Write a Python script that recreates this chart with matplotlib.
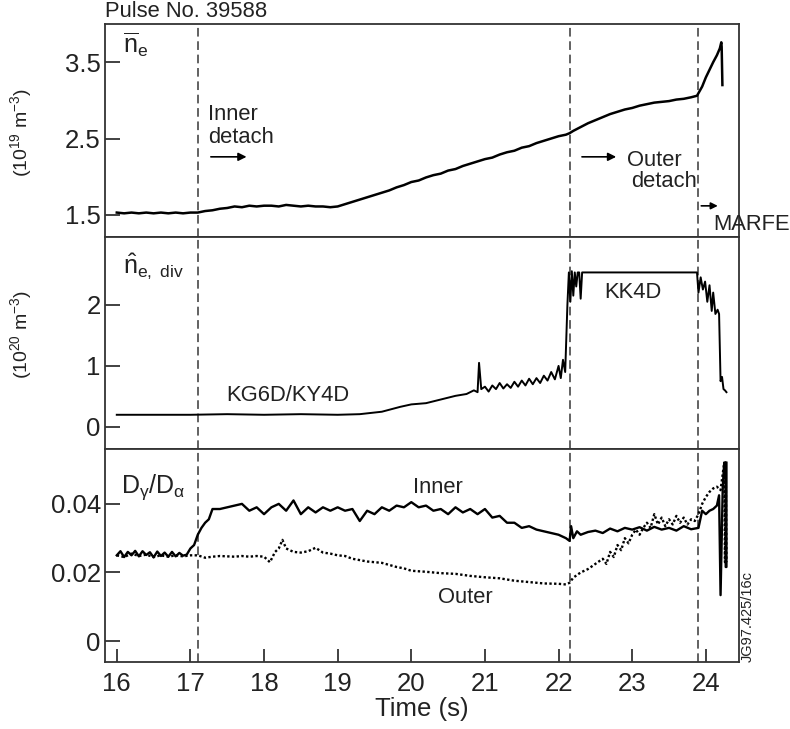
import matplotlib
matplotlib.use("Agg")
import matplotlib.pyplot as plt

plt.rcParams['font.family'] = ['Liberation Sans', 'DejaVu Sans']
plt.rcParams['mathtext.fontset'] = 'custom'
plt.rcParams['mathtext.rm'] = 'Liberation Sans'
plt.rcParams['mathtext.it'] = 'Liberation Sans:italic'
plt.rcParams['mathtext.bf'] = 'Liberation Sans:bold'

# ---------------- data ----------------
event_times = [17.1, 22.15, 23.89]

ne_t = [16.0, 16.1, 16.2, 16.3, 16.4, 16.5, 16.6, 16.7, 16.8, 16.9, 17.0, 17.1, 17.2, 17.3, 17.4,
        17.5, 17.6, 17.7, 17.8, 17.9, 18.0, 18.1, 18.2, 18.3, 18.4, 18.5, 18.6, 18.7, 18.8, 18.9,
        19.0, 19.1, 19.2, 19.3, 19.4, 19.5, 19.6, 19.7, 19.8, 19.9, 20.0, 20.1, 20.2, 20.3, 20.4,
        20.5, 20.6, 20.7, 20.8, 20.9, 21.0, 21.1, 21.2, 21.3, 21.4, 21.5, 21.6, 21.7, 21.8, 21.9,
        22.0, 22.1, 22.15, 22.2, 22.3, 22.4, 22.5, 22.6, 22.7, 22.8, 22.9, 23.0, 23.1, 23.2, 23.3,
        23.4, 23.5, 23.6, 23.7, 23.8, 23.88, 23.95, 24.0, 24.05, 24.1, 24.15, 24.19, 24.21, 24.215, 24.225]
ne_v = [1.53, 1.52, 1.53, 1.52, 1.53, 1.52, 1.53, 1.52, 1.53, 1.52, 1.53, 1.53, 1.55, 1.56, 1.58,
        1.59, 1.61, 1.60, 1.62, 1.61, 1.62, 1.62, 1.61, 1.63, 1.62, 1.61, 1.62, 1.61, 1.61, 1.60,
        1.61, 1.64, 1.67, 1.70, 1.73, 1.76, 1.79, 1.82, 1.86, 1.89, 1.93, 1.95, 1.99, 2.02, 2.04,
        2.08, 2.10, 2.14, 2.17, 2.20, 2.23, 2.25, 2.29, 2.32, 2.34, 2.38, 2.40, 2.44, 2.47, 2.50,
        2.53, 2.55, 2.57, 2.60, 2.65, 2.70, 2.74, 2.78, 2.82, 2.85, 2.88, 2.90, 2.93, 2.95, 2.97,
        2.98, 2.99, 3.01, 3.02, 3.04, 3.06, 3.18, 3.30, 3.40, 3.50, 3.59, 3.68, 3.76, 3.70, 3.20]

nd_t = [16.0, 16.5, 17.0, 17.5, 18.0, 18.5, 19.0, 19.3, 19.6, 19.85, 20.0, 20.2, 20.4, 20.6, 20.75,
        20.85, 20.9, 20.92, 20.95, 21.0, 21.05, 21.1, 21.15, 21.2, 21.25, 21.3, 21.35, 21.4, 21.45,
        21.5, 21.55, 21.6, 21.65, 21.7, 21.75, 21.8, 21.85, 21.9, 21.95, 22.0, 22.03, 22.06, 22.09,
        22.12, 22.14, 22.16, 22.18, 22.2, 22.22, 22.24, 22.26, 22.28, 22.3, 22.32, 22.34, 22.36,
        23.0, 23.88, 23.9, 23.93, 23.96, 23.99, 24.02, 24.05, 24.08, 24.1, 24.13, 24.16, 24.18,
        24.2, 24.22, 24.24, 24.26, 24.28]
nd_v = [0.20, 0.20, 0.20, 0.21, 0.20, 0.21, 0.20, 0.21, 0.25, 0.33, 0.37, 0.39, 0.45, 0.51, 0.54,
        0.60, 0.57, 1.05, 0.62, 0.66, 0.58, 0.68, 0.62, 0.72, 0.63, 0.70, 0.64, 0.74, 0.66,
        0.76, 0.68, 0.79, 0.70, 0.80, 0.72, 0.84, 0.76, 0.90, 0.78, 1.00, 0.80, 1.10, 0.90,
        2.00, 2.53, 2.05, 2.55, 2.15, 2.53, 2.30, 2.53, 2.53, 2.10, 2.53, 2.53, 2.53,
        2.53, 2.53, 2.20, 2.45, 2.25, 2.38, 2.05, 2.32, 1.90, 2.20, 1.85, 1.92, 1.85,
        0.75, 0.82, 0.62, 0.60, 0.57]

inner_t = [16.0, 16.05, 16.1, 16.15, 16.2, 16.25, 16.3, 16.35, 16.4, 16.45, 16.5, 16.55, 16.6,
           16.65, 16.7, 16.75, 16.8, 16.85, 16.9, 16.95, 17.0, 17.05, 17.1, 17.15, 17.2, 17.25,
           17.3, 17.4, 17.5, 17.6, 17.7, 17.8, 17.9, 18.0, 18.1, 18.2, 18.3, 18.4, 18.5, 18.6,
           18.7, 18.8, 18.9, 19.0, 19.1, 19.2, 19.3, 19.4, 19.5, 19.6, 19.7, 19.8, 19.9, 20.0,
           20.1, 20.2, 20.3, 20.4, 20.5, 20.6, 20.7, 20.8, 20.9, 21.0, 21.1, 21.2, 21.3, 21.4,
           21.5, 21.6, 21.7, 21.8, 21.9, 22.0, 22.1, 22.15, 22.17, 22.2, 22.25, 22.3, 22.4, 22.5,
           22.6, 22.7, 22.8, 22.9, 23.0, 23.1, 23.2, 23.3, 23.4, 23.5, 23.6, 23.7, 23.8, 23.9,
           23.95, 24.0, 24.05, 24.1, 24.15, 24.18, 24.2, 24.23, 24.25, 24.27, 24.27, 24.28, 24.28]
inner_v = [0.0250, 0.0262, 0.0245, 0.0260, 0.0250, 0.0263, 0.0247, 0.0262, 0.0251, 0.0259, 0.0244,
           0.0261, 0.0248, 0.0258, 0.0246, 0.0260, 0.0247, 0.0257, 0.0249, 0.0252, 0.0270, 0.0280,
           0.0310, 0.0330, 0.0345, 0.0355, 0.0385, 0.0385, 0.0390, 0.0395, 0.0400, 0.0380,
           0.0390, 0.0370, 0.0390, 0.0400, 0.0380, 0.0410, 0.0370, 0.0390, 0.0375, 0.0390,
           0.0380, 0.0390, 0.0380, 0.0385, 0.0350, 0.0380, 0.0370, 0.0390, 0.0380, 0.0395,
           0.0390, 0.0405, 0.0390, 0.0395, 0.0380, 0.0385, 0.0370, 0.0390, 0.0375, 0.0385,
           0.0370, 0.0385, 0.0360, 0.0365, 0.0345, 0.0345, 0.0330, 0.0335, 0.0325, 0.0320,
           0.0315, 0.0310, 0.0300, 0.0292, 0.0335, 0.0300, 0.0320, 0.0310, 0.0318, 0.0322,
           0.0315, 0.0328, 0.0320, 0.0330, 0.0325, 0.0332, 0.0322, 0.0333, 0.0325, 0.0330,
           0.0322, 0.0335, 0.0326, 0.0330, 0.0380, 0.0370, 0.0380, 0.0385, 0.0395, 0.0425,
           0.0134, 0.0450, 0.0520, 0.0520, 0.0216, 0.0216, 0.0520]

outer_t = [16.0, 16.1, 16.2, 16.3, 16.4, 16.5, 16.6, 16.7, 16.8, 16.9, 17.0, 17.1, 17.2, 17.3, 17.4,
           17.5, 17.6, 17.7, 17.8, 17.9, 18.0, 18.08, 18.15, 18.2, 18.25, 18.3, 18.4, 18.5, 18.6,
           18.7, 18.8, 18.9, 19.0, 19.1, 19.2, 19.3, 19.4, 19.5, 19.6, 19.7, 19.8, 19.9, 20.0,
           20.2, 20.4, 20.6, 20.8, 21.0, 21.2, 21.4, 21.6, 21.8, 22.0, 22.1, 22.15, 22.2, 22.3,
           22.4, 22.5, 22.6, 22.65, 22.7, 22.75, 22.8, 22.85, 22.9, 22.95, 23.0, 23.05, 23.1,
           23.15, 23.2, 23.25, 23.3, 23.35, 23.4, 23.45, 23.5, 23.55, 23.6, 23.65, 23.7, 23.75,
           23.8, 23.85, 23.9, 23.95, 24.0, 24.05, 24.1, 24.15, 24.2, 24.25, 24.26, 24.27, 24.28]
outer_v = [0.0250, 0.0245, 0.0255, 0.0248, 0.0252, 0.0245, 0.0250, 0.0246, 0.0250, 0.0247, 0.0250,
           0.0250, 0.0243, 0.0246, 0.0248, 0.0247, 0.0246, 0.0248, 0.0246, 0.0248, 0.0246,
           0.0230, 0.0260, 0.0270, 0.0295, 0.0270, 0.0260, 0.0258, 0.0262, 0.0272, 0.0258,
           0.0255, 0.0250, 0.0248, 0.0240, 0.0236, 0.0232, 0.0230, 0.0228, 0.0222, 0.0216,
           0.0212, 0.0205, 0.0202, 0.0198, 0.0196, 0.0190, 0.0186, 0.0183, 0.0176, 0.0172,
           0.0168, 0.0167, 0.0165, 0.0170, 0.0185, 0.0200, 0.0210, 0.0225, 0.0240, 0.0225,
           0.0260, 0.0245, 0.0280, 0.0265, 0.0300, 0.0285, 0.0310, 0.0325, 0.0310, 0.0330,
           0.0345, 0.0330, 0.0370, 0.0340, 0.0360, 0.0335, 0.0355, 0.0340, 0.0365, 0.0345,
           0.0360, 0.0340, 0.0355, 0.0350, 0.0370, 0.0400, 0.0420, 0.0435, 0.0445, 0.0450,
           0.0440, 0.0520, 0.0230, 0.0520, 0.0230]

x_ticks = [16, 17, 18, 19, 20, 21, 22, 23, 24]
y1_ticks = [1.5, 2.5, 3.5]
y2_ticks = [0, 1, 2]
y3_ticks = [0, 0.02, 0.04]

# ---------------- figure ----------------
TXT = '#222222'
SP = '#333333'
fig = plt.figure(figsize=(7.9, 7.29), dpi=100)
L, W = 0.1329, 0.8025
ax1 = fig.add_axes([L, 0.6749, W, 0.9671 - 0.6749])
ax2 = fig.add_axes([L, 0.3841, W, 0.6749 - 0.3841])
ax3 = fig.add_axes([L, 0.0919, W, 0.3841 - 0.0919])

for ax in (ax1, ax2, ax3):
    ax.set_xlim(15.84, 24.45)
    for s in ax.spines.values():
        s.set_color(SP)
        s.set_linewidth(1.3)
    ax.tick_params(axis='y', direction='in', length=10.8, width=1.3, color=SP,
                   labelsize=18.5, labelcolor=TXT, pad=3, right=False)
    ax.tick_params(axis='x', direction='in', length=9.4, width=1.3, color=SP,
                   labelsize=18.5, labelcolor=TXT, pad=7, top=False)
    for t in event_times:
        ax.axvline(t, color='#555555', lw=1.3, ls=(0, (4.8, 2.6)), zorder=1)

for ax in (ax1, ax2):
    ax.tick_params(axis='x', bottom=False, labelbottom=False)

ANN = 15.8

# panel 1
ax1.plot(ne_t, ne_v, color='black', lw=1.8, zorder=3)
ax1.set_ylim(1.21, 4.0)
ax1.set_yticks(y1_ticks)
ax1.set_yticklabels(['1.5', '2.5', '3.5'])
ax1.set_ylabel(r'(10$^{19}$ m$^{-3}$)', fontsize=14, color=TXT)
ax1.yaxis.set_label_coords(-0.112, 0.49)
ax1.text(0.028, 0.90, r'$\overline{\mathrm{n}}_{\mathrm{e}}$', transform=ax1.transAxes,
         fontsize=18, color=TXT, va='center', ha='left')
ax1.text(15.84, 4.02, 'Pulse No. 39588', fontsize=15.8, color=TXT, ha='left', va='bottom')
ax1.text(17.24, 2.74, 'Inner', fontsize=ANN, color=TXT, ha='left', va='baseline')
ax1.text(17.24, 2.44, 'detach', fontsize=ANN, color=TXT, ha='left', va='baseline')
ax1.annotate('', xy=(17.8, 2.26), xytext=(17.24, 2.26),
             arrowprops=dict(arrowstyle='-|>', color='black', lw=1.2, mutation_scale=12))
ax1.annotate('', xy=(22.82, 2.26), xytext=(22.28, 2.26),
             arrowprops=dict(arrowstyle='-|>', color='black', lw=1.2, mutation_scale=12))
ax1.text(22.93, 2.14, 'Outer', fontsize=ANN, color=TXT, ha='left', va='baseline')
ax1.text(22.98, 1.87, 'detach', fontsize=ANN, color=TXT, ha='left', va='baseline')
ax1.annotate('', xy=(24.2, 1.618), xytext=(23.9, 1.618),
             arrowprops=dict(arrowstyle='-|>', color='black', lw=1.2, mutation_scale=10))
ax1.text(24.1, 1.30, 'MARFE', fontsize=ANN, color=TXT, ha='left', va='baseline', clip_on=False)

# panel 2
ax2.plot(nd_t, nd_v, color='black', lw=1.4, zorder=3)
ax2.set_ylim(-0.36, 3.11)
ax2.set_yticks(y2_ticks)
ax2.set_yticklabels(['0', '1', '2'])
ax2.set_ylabel(r'(10$^{20}$ m$^{-3}$)', fontsize=14, color=TXT)
ax2.yaxis.set_label_coords(-0.112, 0.54)
ax2.text(0.028, 0.86, r'$\hat{\mathrm{n}}_{\mathrm{e,\ div}}$', transform=ax2.transAxes,
         fontsize=18, color=TXT, va='center', ha='left')
ax2.text(17.49, 0.52, 'KG6D/KY4D', fontsize=ANN, color=TXT, ha='left', va='center')
ax2.text(22.62, 2.2, 'KK4D', fontsize=ANN, color=TXT, ha='left', va='center')

# panel 3
ax3.plot(inner_t, inner_v, color='black', lw=1.7, zorder=3)
ax3.plot(outer_t, outer_v, color='black', lw=1.7, ls=(0, (1, 1)), zorder=3)
ax3.set_ylim(-0.0061, 0.056)
ax3.set_yticks(y3_ticks)
ax3.set_yticklabels(['0', '0.02', '0.04'])
ax3.set_xticks(x_ticks)
ax3.set_xticklabels([str(v) for v in x_ticks])
ax3.set_xlabel('Time (s)', fontsize=18.5, color=TXT, labelpad=1)
ax3.text(0.025, 0.82, r'D$_{\mathrm{\gamma}}$/D$_{\mathrm{\alpha}}$', transform=ax3.transAxes,
         fontsize=18, color=TXT, va='center', ha='left')
ax3.text(20.02, 0.0447, 'Inner', fontsize=ANN, color=TXT, ha='left', va='center')
ax3.text(20.36, 0.0128, 'Outer', fontsize=ANN, color=TXT, ha='left', va='center')

fig.text(748 / 790, 1 - 617 / 729, 'JG97.425/16c', rotation=90, fontsize=10.5, color=TXT,
         ha='center', va='center')

fig.savefig('out.png', dpi=100)
